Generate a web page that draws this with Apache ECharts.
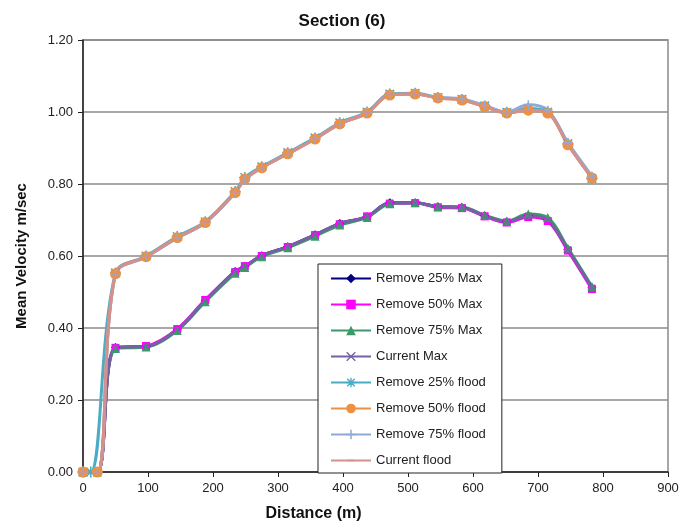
<!DOCTYPE html>
<html>
<head>
<meta charset="utf-8">
<script src="https://cdn.jsdelivr.net/npm/echarts@6/dist/echarts.min.js"></script>
<style>
html,body{margin:0;padding:0;background:#fff;}
#chart{width:684px;height:527px;}
</style>
</head>
<body>
<div id="chart"></div>
<script>
// ---- data ----
var seriesNames = ["Remove 25% Max","Remove 50% Max","Remove 75% Max","Current Max","Remove 25% flood","Remove 50% flood","Remove 75% flood","Current flood"];
var distance = [0, 22, 50, 97, 145, 188, 234, 249, 275, 315, 357, 395, 437, 472, 511, 546, 583, 618, 652, 685, 715, 746, 783];
var distanceTeal = [0, 12, 50, 97, 145, 188, 234, 249, 275, 315, 357, 395, 437, 472, 511, 546, 583, 618, 652, 685, 715, 746, 783];

var remove25Max = [0, 0, 0.346, 0.349, 0.396, 0.476, 0.557, 0.571, 0.601, 0.626, 0.659, 0.690, 0.709, 0.748, 0.748, 0.737, 0.735, 0.712, 0.695, 0.712, 0.700, 0.618, 0.512];
var remove50Max = [0, 0, 0.345, 0.350, 0.397, 0.478, 0.555, 0.572, 0.600, 0.625, 0.658, 0.688, 0.710, 0.745, 0.747, 0.735, 0.733, 0.710, 0.693, 0.708, 0.697, 0.615, 0.508];
var remove75Max = [0, 0, 0.343, 0.347, 0.393, 0.473, 0.552, 0.568, 0.598, 0.623, 0.655, 0.686, 0.707, 0.745, 0.748, 0.737, 0.736, 0.713, 0.697, 0.717, 0.707, 0.622, 0.515];
var currentMax  = [0, 0, 0.346, 0.349, 0.396, 0.476, 0.557, 0.571, 0.601, 0.626, 0.659, 0.690, 0.709, 0.748, 0.748, 0.737, 0.735, 0.712, 0.695, 0.712, 0.700, 0.618, 0.512];

var remove25Flood = [0, 0, 0.553, 0.600, 0.654, 0.695, 0.779, 0.818, 0.848, 0.887, 0.928, 0.970, 1.000, 1.050, 1.052, 1.040, 1.035, 1.017, 0.999, 1.010, 1.000, 0.912, 0.815];
var remove50Flood = [0, 0, 0.551, 0.598, 0.651, 0.693, 0.776, 0.814, 0.845, 0.884, 0.925, 0.967, 0.997, 1.047, 1.050, 1.039, 1.033, 1.015, 0.997, 1.005, 0.997, 0.909, 0.817];
var remove75Flood = [0, 0, 0.550, 0.597, 0.650, 0.692, 0.775, 0.812, 0.845, 0.884, 0.925, 0.967, 0.998, 1.047, 1.050, 1.040, 1.036, 1.018, 1.000, 1.020, 1.005, 0.915, 0.822];
var currentFlood  = [0, 0, 0.551, 0.598, 0.651, 0.693, 0.776, 0.814, 0.845, 0.884, 0.925, 0.967, 0.997, 1.047, 1.050, 1.039, 1.033, 1.015, 0.997, 1.005, 0.997, 0.909, 0.817];

var xTicks = [0, 100, 200, 300, 400, 500, 600, 700, 800, 900];
var yTicks = [0.00, 0.20, 0.40, 0.60, 0.80, 1.00, 1.20];

// ---- build ----
function pairs(xs, ys){ return xs.map(function(x,i){ return [x, ys[i]]; }); }

var SYM_X = 'path://M0,1L1,0L5,4L9,0L10,1L6,5L10,9L9,10L5,6L1,10L0,9L4,5Z';
var SYM_PLUS = 'path://M4.2,0H5.8V4.2H10V5.8H5.8V10H4.2V5.8H0V4.2H4.2Z';
var SYM_AST = 'path://M4.3,0H5.7V4.3H10V5.7H5.7V10H4.3V5.7H0V4.3H4.3Z M0.6,1.6L1.6,0.6L5,4L8.4,0.6L9.4,1.6L6,5L9.4,8.4L8.4,9.4L5,6L1.6,9.4L0.6,8.4L4,5Z';
var SYM_DASH = 'path://M5,0L5.01,0L5,0Z M1,4.2H9V5.8H1Z M5,10L5.01,10L5,10Z M0,5L0,5.01L0,5Z M10,5L10,5.01L10,5Z';

var styles = [
  {color:'#000080', symbol:'diamond', size:9},
  {color:'#FF00FF', symbol:'rect', size:8},
  {color:'#3A9A6A', symbol:'triangle', size:9},
  {color:'#7462A2', symbol:SYM_X, size:7},
  {color:'#4BACC6', symbol:SYM_AST, size:11},
  {color:'#EE9040', symbol:'circle', size:11},
  {color:'#90AAD8', symbol:SYM_PLUS, size:9},
  {color:'#D4908C', symbol:SYM_DASH, size:9}
];
var dataSets = [
  pairs(distance, remove25Max),
  pairs(distance, remove50Max),
  pairs(distance, remove75Max),
  pairs(distance, currentMax),
  pairs(distanceTeal, remove25Flood),
  pairs(distance, remove50Flood),
  pairs(distance, remove75Flood),
  pairs(distance, currentFlood)
];

var series = seriesNames.map(function(n, i){
  var s = styles[i];
  return {
    name: n,
    type: 'line',
    data: dataSets[i],
    smooth: 0.35,
    symbol: s.symbol,
    symbolSize: s.size,
    symbolKeepAspect: true,
    showAllSymbol: true,
    lineStyle: {color: s.color, width: 3},
    itemStyle: {color: s.color, borderWidth: 0},
    emphasis: {disabled: true},
    animation: false
  };
});

var chart = echarts.init(document.getElementById('chart'), null, {renderer:'canvas'});
chart.setOption({
  backgroundColor: '#ffffff',
  animation: false,
  title: {
    text: 'Section (6)',
    left: 'center',
    top: 8,
    textStyle: {fontFamily: 'Liberation Sans, Arial, sans-serif', fontSize: 17, fontWeight: 'bold', color: '#111'}
  },
  grid: {
    left: 83, right: 16, top: 40, bottom: 54,
    show: true, borderColor: '#8a8a8a', borderWidth: 1.5, backgroundColor: '#fff'
  },
  legend: {
    orient: 'vertical',
    left: 318, top: 264,
    padding: [8, 16, 6, 12],
    itemWidth: 40, itemHeight: 12, itemGap: 13,
    backgroundColor: '#fff',
    borderColor: '#222', borderWidth: 1,
    borderRadius: 0,
    textStyle: {fontFamily: 'Liberation Sans, Arial, sans-serif', fontSize: 13, color: '#222'},
    data: seriesNames
  },
  xAxis: {
    type: 'value',
    min: xTicks[0], max: xTicks[xTicks.length-1], interval: 100,
    name: 'Distance (m)',
    nameLocation: 'middle',
    nameGap: 34,
    nameTextStyle: {fontFamily: 'Liberation Sans, Arial, sans-serif', fontSize: 16, fontWeight: 'bold', color: '#111', padding: [0, 124, 0, 0]},
    axisLine: {show: true, lineStyle: {color: '#222', width: 1.5}},
    axisTick: {show: true, inside: false, length: 5, lineStyle: {color: '#222'}},
    axisLabel: {fontFamily: 'Liberation Sans, Arial, sans-serif', fontSize: 13, color: '#222', margin: 10},
    splitLine: {show: false}
  },
  yAxis: {
    type: 'value',
    min: yTicks[0], max: yTicks[yTicks.length-1], interval: 0.2,
    name: 'Mean Velocity m/sec',
    nameLocation: 'middle',
    nameGap: 54,
    nameTextStyle: {fontFamily: 'Liberation Sans, Arial, sans-serif', fontSize: 15, fontWeight: 'bold', color: '#111'},
    axisLine: {show: true, lineStyle: {color: '#222', width: 1.5}},
    axisTick: {show: true, inside: false, length: 5, lineStyle: {color: '#222'}},
    axisLabel: {fontFamily: 'Liberation Sans, Arial, sans-serif', fontSize: 13, color: '#222', margin: 10,
      formatter: function(v){ return v.toFixed(2); }},
    splitLine: {show: true, lineStyle: {color: '#8a8a8a', width: 1.5}}
  },
  series: series
});
</script>
</body>
</html>
